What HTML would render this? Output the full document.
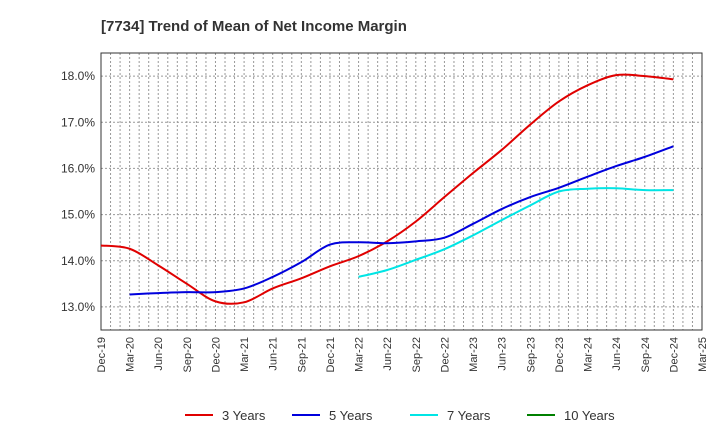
<!DOCTYPE html>
<html><head><meta charset="utf-8"><style>
body{margin:0;background:#fff;font-family:"Liberation Sans",sans-serif}
</style></head><body>
<svg id="c" width="720" height="440" xmlns="http://www.w3.org/2000/svg">
<text x="101" y="31" font-size="15" font-weight="bold" fill="#333">[7734]  Trend of Mean of Net Income Margin</text>
<g id="grid"></g><g id="axes"></g><g id="series"></g><g id="legend"></g>
</svg>
<script>
const xLabels=["Dec-19","Mar-20","Jun-20","Sep-20","Dec-20","Mar-21","Jun-21","Sep-21","Dec-21","Mar-22","Jun-22","Sep-22","Dec-22","Mar-23","Jun-23","Sep-23","Dec-23","Mar-24","Jun-24","Sep-24","Dec-24","Mar-25"];
const yTicks=[13,14,15,16,17,18];
const s3=[14.33,14.26,13.9,13.5,13.12,13.1,13.4,13.62,13.88,14.1,14.42,14.85,15.38,15.9,16.4,16.95,17.45,17.8,18.02,18.0,17.93];
const s3start=0;
const s5=[13.27,13.3,13.32,13.32,13.4,13.65,13.97,14.35,14.4,14.38,14.42,14.5,14.8,15.12,15.38,15.58,15.82,16.05,16.25,16.48];
const s5start=1;
const s7=[13.65,13.8,14.02,14.25,14.55,14.88,15.2,15.5,15.56,15.57,15.53,15.53];
const s7start=9;
const s10=[];
const s10start=0;
const L=101,R=702,T=53,B=330,yMin=12.5,yMax=18.5;
const xq=i=>L+i*(R-L)/(xLabels.length-1);
const yv=v=>B-(v-yMin)/(yMax-yMin)*(B-T);
const NS="http://www.w3.org/2000/svg";
function mk(p,tag,a){const e=document.createElementNS(NS,tag);for(const k in a)e.setAttribute(k,a[k]);p.appendChild(e);return e;}
const grid=document.getElementById('grid'),axes=document.getElementById('axes'),ser=document.getElementById('series'),leg=document.getElementById('legend');
for(let m=1;m<(xLabels.length-1)*3;m++){const x=L+m*(R-L)/((xLabels.length-1)*3);
const g=mk(grid,'line',{x1:x,x2:x,y1:T,y2:B,stroke:'#999','stroke-dasharray':'2,2','stroke-width':1});

}
yTicks.forEach(v=>{const y=yv(v);
const g=mk(grid,'line',{x1:L,x2:R,y1:y,y2:y,stroke:'#999','stroke-dasharray':'2,2','stroke-width':1});


const t=mk(axes,'text',{x:L-6,y:y+4,'text-anchor':'end','font-size':12,fill:'#333'});t.textContent=v.toFixed(1)+'%';

});
const fr=mk(axes,'rect',{x:L,y:T,width:R-L,height:B-T,fill:'none',stroke:'#333','stroke-width':1});


xLabels.forEach((s,i)=>{const x=xq(i);
const t=mk(axes,'text',{x:0,y:0,'text-anchor':'end','font-size':11,fill:'#333',transform:`translate(${x+4},${B+7}) rotate(-90)`});t.textContent=s;

});
function path(vals,start){const p=vals.map((v,i)=>[xq(start+i),yv(v)]);if(p.length<2)return '';
let d=`M${p[0][0]},${p[0][1]}`;
for(let i=0;i<p.length-1;i++){const p0=p[Math.max(0,i-1)],p1=p[i],p2=p[i+1],p3=p[Math.min(p.length-1,i+2)];
const c1=[p1[0]+(p2[0]-p0[0])/6,p1[1]+(p2[1]-p0[1])/6],c2=[p2[0]-(p3[0]-p1[0])/6,p2[1]-(p3[1]-p1[1])/6];
d+=` C${c1[0]},${c1[1]} ${c2[0]},${c2[1]} ${p2[0]},${p2[1]}`;}return d;}
const series=[["3 Years",s3,s3start,"#e00000"],["5 Years",s5,s5start,"#0000dd"],["7 Years",s7,s7start,"#00e5e5"],["10 Years",s10,s10start,"#008000"]];
const lx=[185,292,410,527];
series.forEach((s,k)=>{if(s[1].length>1){const e=mk(ser,'path',{d:path(s[1],s[2]),fill:'none',stroke:s[3],'stroke-width':2,'stroke-linejoin':'round'});

}
const ln=mk(leg,'line',{x1:lx[k],x2:lx[k]+28,y1:415,y2:415,stroke:s[3],'stroke-width':2});


const t=mk(leg,'text',{x:lx[k]+37,y:420,'font-size':13,fill:'#333'});t.textContent=s[0];

});
</script>
</body></html>
